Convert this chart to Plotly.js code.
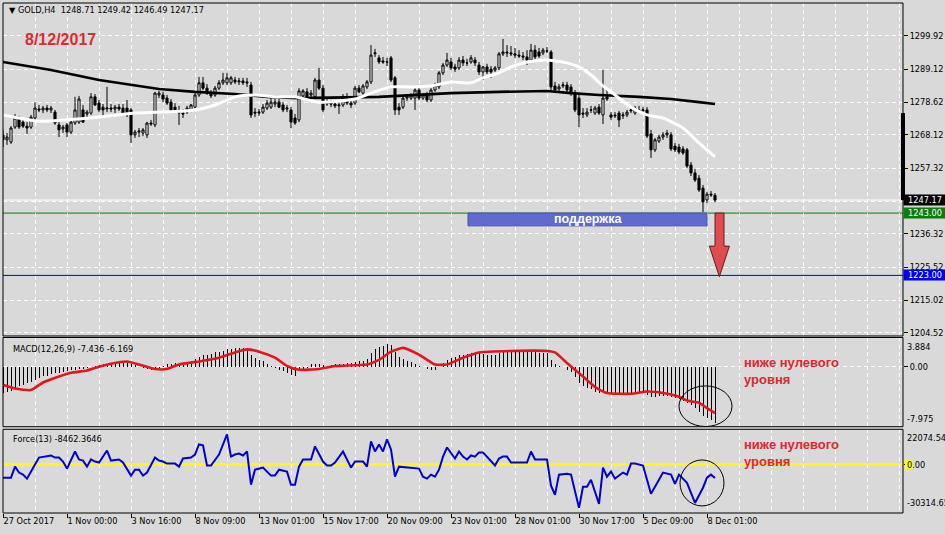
<!DOCTYPE html>
<html><head><meta charset="utf-8">
<script src="https://cdn.plot.ly/plotly-3.0.1.min.js"></script>
<style>html,body{margin:0;padding:0;background:#d9d9d9}#chart{width:945px;height:534px}</style>
</head><body><div id="chart"></div>
<script>
// ---- price data (GOLD, H4), one value per bar ----
const openP = [1268.1,1266.5,1265.8,1270.6,1273.5,1272.2,1270.9,1270.6,1273.5,1276.4,
1276.1,1276.7,1276.1,1275.4,1271.3,1270.0,1271.3,1269.0,1271.9,1272.2,
1276.1,1274.8,1275.1,1280.3,1278.3,1277.0,1276.4,1276.7,1276.4,1277.0,
1276.7,1276.7,1276.1,1268.1,1269.0,1268.7,1268.1,1271.9,1271.3,1280.9,
1280.9,1279.9,1278.6,1277.0,1276.1,1275.1,1275.4,1276.1,1277.0,1280.9,
1284.8,1283.1,1281.5,1280.9,1283.1,1284.8,1284.8,1284.8,1285.7,1285.1,
1285.4,1285.1,1284.1,1275.4,1275.1,1275.4,1276.7,1277.0,1278.0,1278.6,
1277.7,1276.4,1276.1,1273.5,1272.9,1280.6,1281.9,1280.9,1280.3,1285.7,
1283.1,1278.6,1278.3,1278.0,1277.4,1277.7,1280.3,1278.3,1278.3,1283.1,
1281.5,1283.5,1285.1,1294.1,1292.8,1291.8,1291.5,1292.8,1286.4,1277.0,
1277.0,1279.9,1279.9,1279.9,1282.5,1279.9,1280.9,1279.3,1282.5,1283.5,
1288.0,1290.5,1291.5,1289.9,1289.6,1292.1,1291.2,1291.5,1292.1,1290.5,
1288.3,1289.9,1289.2,1288.9,1289.6,1294.1,1294.7,1294.4,1294.1,1293.7,
1293.4,1293.1,1292.1,1295.3,1294.7,1294.4,1295.0,1294.7,1283.8,1282.8,
1283.8,1284.1,1283.5,1281.5,1279.9,1275.1,1274.5,1276.1,1275.1,1277.0,
1274.5,1280.3,1274.5,1274.5,1275.1,1274.2,1274.5,1275.8,1275.1,1276.1,
1275.8,1276.1,1268.4,1263.3,1266.1,1267.4,1268.1,1268.1,1264.5,1264.2,
1263.6,1263.3,1258.4,1255.9,1254.2,1251.0,1247.2,1249.1,1248.71];
const highP = [1269.7,1268.7,1270.9,1274.8,1274.2,1273.2,1272.2,1274.5,1278.6,1277.7,
1277.4,1277.7,1277.4,1276.1,1272.2,1271.3,1271.9,1272.9,1280.3,1280.6,
1277.7,1276.1,1281.5,1281.2,1279.3,1278.0,1283.5,1278.0,1277.7,1278.0,
1278.0,1279.3,1276.7,1269.7,1270.3,1270.3,1272.2,1272.9,1281.9,1282.2,
1281.9,1280.9,1279.6,1278.3,1277.4,1276.4,1277.4,1278.0,1281.5,1286.7,
1286.7,1284.4,1282.5,1283.8,1285.7,1288.0,1288.0,1287.0,1286.7,1286.4,
1286.4,1286.4,1285.1,1276.7,1276.4,1278.0,1279.3,1279.9,1279.6,1279.6,
1278.6,1277.7,1277.0,1274.8,1283.1,1282.8,1283.1,1282.5,1286.4,1289.6,
1284.1,1279.6,1279.3,1279.3,1278.6,1281.2,1281.5,1279.3,1283.8,1284.1,
1284.4,1285.7,1296.9,1295.7,1293.7,1293.1,1292.8,1293.4,1287.0,1278.3,
1280.6,1281.2,1281.5,1283.1,1283.8,1281.5,1281.9,1283.1,1284.8,1288.6,
1291.2,1294.4,1292.8,1290.9,1293.1,1293.4,1292.5,1293.7,1293.1,1291.5,
1290.2,1290.9,1290.2,1290.2,1294.7,1298.9,1296.9,1296.6,1296.0,1295.3,
1294.7,1295.3,1297.3,1296.9,1296.0,1296.0,1296.3,1295.3,1285.1,1284.4,
1285.1,1285.1,1284.4,1282.5,1281.2,1276.7,1276.7,1277.4,1277.4,1278.0,
1288.9,1282.5,1275.4,1275.4,1275.8,1275.4,1276.1,1277.0,1277.4,1277.4,
1277.0,1277.0,1269.7,1267.1,1268.1,1269.0,1269.7,1269.0,1265.5,1265.2,
1264.5,1263.9,1259.4,1257.1,1255.2,1252.0,1249.8,1250.1,1249.42];
const lowP = [1264.2,1264.9,1265.2,1270.0,1270.0,1270.3,1268.4,1270.0,1272.9,1275.4,
1275.1,1275.4,1275.1,1271.3,1267.4,1268.7,1267.4,1268.4,1271.3,1271.6,
1271.9,1273.5,1274.5,1277.4,1275.4,1273.5,1275.4,1275.4,1275.1,1275.8,
1274.2,1273.8,1265.5,1267.1,1267.4,1267.7,1267.1,1271.0,1270.6,1279.9,
1278.6,1277.7,1275.4,1275.1,1271.3,1273.5,1274.8,1275.4,1276.7,1280.3,
1282.5,1280.9,1279.9,1280.3,1282.5,1284.1,1284.1,1284.1,1284.4,1284.1,
1284.1,1283.5,1273.5,1273.8,1274.2,1274.8,1276.1,1276.4,1277.0,1276.7,
1275.4,1275.4,1270.3,1271.3,1272.2,1279.9,1279.6,1279.9,1279.6,1282.5,
1275.4,1277.4,1277.0,1276.7,1274.8,1277.0,1277.7,1276.7,1277.7,1281.5,
1280.9,1282.8,1284.4,1293.1,1290.9,1290.9,1290.2,1285.1,1274.5,1274.5,
1276.4,1279.0,1279.3,1276.1,1279.3,1279.3,1278.6,1278.6,1281.9,1282.8,
1287.3,1289.9,1288.9,1288.3,1288.9,1290.2,1290.2,1290.9,1290.2,1287.3,
1285.7,1287.6,1286.4,1288.3,1288.9,1293.4,1293.1,1293.4,1292.8,1292.8,
1292.1,1290.5,1291.5,1292.4,1292.8,1293.7,1294.4,1282.5,1281.9,1282.2,
1283.1,1281.5,1280.6,1275.4,1270.6,1273.5,1273.8,1275.1,1274.5,1274.5,
1271.6,1279.0,1272.9,1273.5,1270.6,1273.2,1273.8,1275.1,1274.5,1275.1,
1275.1,1267.1,1260.7,1262.6,1265.5,1266.5,1267.1,1262.9,1262.6,1261.9,
1261.7,1257.5,1254.9,1253.0,1249.8,1243.3,1246.2,1248.2,1246.49];
const closeP = [1266.5,1267.4,1270.3,1273.5,1270.6,1270.9,1270.3,1273.8,1276.7,1276.1,
1276.7,1276.1,1276.7,1271.9,1269.7,1270.6,1269.0,1272.2,1276.1,1279.6,
1272.2,1275.4,1280.3,1277.7,1276.1,1276.1,1276.7,1276.4,1277.0,1276.4,
1275.1,1274.5,1268.1,1269.0,1269.3,1269.7,1271.9,1271.6,1281.5,1281.5,
1279.6,1278.3,1276.1,1276.1,1275.1,1274.8,1276.7,1277.7,1280.9,1284.8,
1283.1,1281.5,1280.6,1283.1,1284.8,1285.7,1286.4,1286.4,1285.1,1285.4,
1284.8,1284.8,1274.5,1275.1,1275.4,1277.0,1278.3,1278.6,1278.6,1277.0,
1276.1,1276.7,1272.2,1271.9,1282.2,1282.2,1280.3,1281.5,1285.7,1283.1,
1276.1,1278.0,1278.0,1277.4,1277.7,1280.3,1278.3,1277.7,1283.1,1281.9,
1283.8,1285.1,1293.7,1294.4,1291.5,1291.5,1291.5,1285.7,1276.1,1276.1,
1279.9,1280.3,1280.9,1282.5,1279.9,1280.9,1279.3,1282.5,1284.1,1288.0,
1290.5,1292.1,1289.6,1289.2,1292.1,1291.2,1291.2,1292.8,1291.2,1288.3,
1289.9,1288.3,1288.3,1289.6,1294.1,1294.7,1294.4,1294.1,1293.7,1293.4,
1293.1,1292.1,1295.3,1293.1,1293.4,1295.3,1295.0,1283.5,1282.5,1283.5,
1284.1,1282.5,1281.5,1276.1,1274.5,1274.8,1275.4,1276.1,1276.7,1275.1,
1279.9,1279.6,1273.8,1274.2,1272.9,1274.5,1275.4,1276.1,1276.7,1275.8,
1276.1,1267.7,1263.3,1266.5,1267.4,1268.1,1268.7,1263.6,1263.3,1262.6,
1262.3,1258.1,1255.9,1253.6,1250.4,1246.6,1249.1,1248.8,1247.17];

// moving averages (sampled at bar indices)
const slowMaBars = [0,12,24,39,48,58,66,74,94,104,112,124,136,142,149,159,167,174,178];
const slowMa = [1291.5,1288.9,1285.7,1282.8,1281.9,1281.2,1280.3,1279.9,1280.3,1280.9,1281.5,1281.9,1282.2,1281.5,1280.9,1280.3,1279.6,1278.6,1278.0];
const fastMaBars = [0,4,9,16,24,33,39,48,53,58,63,68,73,79,88,92,97,102,107,112,117,120,124,127,131,136,138,141,144,147,150,153,157,161,165,170,174,178];
const fastMa = [1274.5,1273.5,1272.5,1272.9,1273.8,1275.1,1275.4,1276.1,1277.7,1280.3,1280.9,1280.3,1280.3,1278.6,1279.6,1281.5,1283.5,1283.5,1283.8,1285.1,1284.8,1286.4,1288.0,1289.9,1291.5,1292.1,1291.8,1291.2,1289.9,1287.3,1283.8,1280.9,1277.0,1274.5,1273.5,1270.3,1265.5,1261.0];

// MACD(12,26,9)
const macdMain = [-3.5,-3.4,-3.2,-2.9,-2.6,-2.4,-2.2,-2.0,-1.7,-1.5,
-1.3,-1.2,-1.0,-0.9,-0.8,-0.7,-0.6,-0.5,-0.4,-0.3,
-0.3,-0.2,-0.1,0.1,0.2,0.3,0.4,0.5,0.5,0.6,
0.6,0.6,0.4,0.2,0.0,-0.2,-0.3,-0.4,-0.4,-0.2,
0.1,0.3,0.4,0.5,0.4,0.5,0.6,0.8,1.0,1.3,
1.5,1.6,1.7,1.9,2.0,2.1,2.3,2.4,2.5,2.5,
2.5,2.4,1.6,1.2,0.9,0.7,0.4,0.1,-0.2,-0.4,
-0.6,-0.8,-1.1,-1.3,-0.6,-0.4,-0.2,0.3,0.4,0.3,
0.2,0.1,0.2,0.3,0.3,0.4,0.5,0.5,0.6,0.7,
0.8,1.0,1.8,2.4,2.6,2.8,3.0,2.9,1.9,1.3,
1.0,0.8,0.6,0.3,0.1,-0.1,-0.3,-0.5,-0.4,0.0,
0.5,0.9,1.1,1.3,1.5,1.6,1.7,1.8,1.8,1.8,
1.7,1.6,1.5,1.5,1.8,2.0,2.1,2.1,2.1,2.0,
2.0,1.9,2.0,1.9,1.8,1.8,1.8,0.9,0.4,0.1,
-0.1,-0.4,-0.7,-1.4,-2.1,-2.5,-2.8,-3.0,-3.3,-3.5,
-3.4,-3.5,-3.6,-3.6,-3.7,-3.6,-3.6,-3.5,-3.5,-3.5,
-3.5,-3.8,-4.0,-4.0,-3.9,-3.9,-3.9,-4.0,-4.1,-4.3,
-4.5,-4.8,-5.1,-5.5,-6.0,-6.5,-6.8,-7.1,-7.436];
const signalBars = [0,3,7,10,14,17,21,24,27,31,34,38,41,44,49,54,58,61,64,68,71,74,79,83,91,94,97,100,104,108,111,115,119,127,136,138,141,145,148,151,157,161,165,169,171,174,176,178];
const macdSignal = [-2.4,-2.9,-3.1,-2.1,-1.3,-0.8,-0.5,0.0,0.4,0.7,0.3,-0.3,-0.3,0.3,0.7,1.2,1.9,2.3,2.0,1.2,0.1,-0.4,-0.3,0.1,0.3,0.9,2.0,2.5,1.6,0.3,0.3,1.2,1.9,2.1,2.1,1.9,0.5,-1.3,-2.7,-3.5,-3.6,-3.3,-3.5,-4.0,-4.5,-4.8,-5.5,-6.169];

// Force Index(13)
const forceBars = [0,2,3,4,5,6,8,9,12,13,14,15,16,18,19,20,21,22,23,24,26,27,29,30,32,33,34,35,36,38,39,40,41,43,44,45,47,48,49,50,51,52,54,56,57,58,59,60,61,62,63,65,67,68,69,71,72,73,74,75,77,78,80,81,82,83,85,86,87,88,90,91,92,93,94,95,96,97,98,99,101,104,105,106,107,108,109,110,111,113,114,115,116,117,118,119,120,122,123,124,125,126,127,131,132,133,136,137,138,139,141,142,143,144,145,146,147,149,150,151,152,153,155,156,157,158,160,162,164,165,167,168,169,171,173,175,176,177,178];
const forceVals = [-8200,-8200,-1300,-5000,-6300,-8800,0,4400,5700,4400,4400,1900,-2500,8200,3200,2500,-1300,3200,1900,1300,8800,2500,3200,1300,-6900,-3200,-3200,-6900,-5000,4400,2500,1900,600,600,-1300,3800,4400,6300,12600,12000,-600,-600,6300,18900,5000,6300,6900,5700,8200,-12600,-3200,-1900,-6900,-6900,-3200,-4400,-12600,-12600,-1300,3200,3200,11400,1900,-600,-600,1300,8200,3200,-1900,1900,1900,-1300,14500,8200,12600,8200,15800,9500,-7600,-1300,-1900,-2500,-7600,-8800,-6300,-7600,-3200,5000,10700,3800,8200,5000,3200,5700,5000,7600,7600,1900,-600,3800,5000,5000,1300,1300,8200,3200,3200,-13200,-18900,-6300,-5700,-6300,-15800,-27100,-13900,-13900,-9500,-24600,-1900,-7600,-4400,-8800,-5000,-6300,600,600,-600,-18300,-9500,-5000,-6300,-12000,-6300,-11400,-24000,-14500,-8200,-6300,-8462.3646];

// axis labels
const dateTickVals = [0,16,32,48,64,80,96,112,128,144,160,176];
const dateTickText = ['27 Oct 2017','1 Nov 00:00','3 Nov 16:00','8 Nov 09:00','13 Nov 01:00','15 Nov 17:00','20 Nov 09:00','23 Nov 01:00','28 Nov 01:00','30 Nov 17:00','5 Dec 09:00','8 Dec 01:00'];
const priceTickVals = [1204.52,1215.02,1225.52,1236.32,1246.82,1257.32,1268.12,1278.62,1289.12,1299.92];
const priceRange = [1203.56,1310.42];
const macdRange = [-7.975,3.884];
const forceRange = [-30314.65,22074.54];
const supportLevel = 1243.00;
const targetLevel = 1223.00;
const supportBox = {from: 116.25, to: 176, bottom: 1238.9};
const chartDate = '8/12/2017';

const bars = openP.map((_, i) => i);
const last = openP.length - 1;
const lastPrice = closeP[last];

const BG = '#d9d9d9';
const GRID = {gridcolor: '#ffffff', griddash: '4px,3px', gridwidth: 1};
const F = 'DejaVu Sans, Verdana, sans-serif';

const traces = [
  {type: 'candlestick', x: bars, open: openP, high: highP, low: lowP, close: closeP,
   xaxis: 'x', yaxis: 'y', whiskerwidth: 0, hoverinfo: 'skip',
   increasing: {line: {color: '#000000', width: 1}, fillcolor: '#ffffff'},
   decreasing: {line: {color: '#000000', width: 1}, fillcolor: '#000000'}},
  {type: 'scatter', mode: 'lines', x: slowMaBars, y: slowMa, xaxis: 'x', yaxis: 'y',
   line: {color: '#000000', width: 2.6}, hoverinfo: 'skip'},
  {type: 'scatter', mode: 'lines', x: fastMaBars, y: fastMa, xaxis: 'x', yaxis: 'y',
   line: {color: '#ffffff', width: 3, shape: 'spline', smoothing: 0.6}, hoverinfo: 'skip'},
  {type: 'bar', x: bars, y: macdMain, xaxis: 'x', yaxis: 'y2', width: 0.25,
   marker: {color: '#000000', line: {width: 0}}, hoverinfo: 'skip'},
  {type: 'scatter', mode: 'lines', x: signalBars, y: macdSignal, xaxis: 'x', yaxis: 'y2',
   line: {color: '#e3161f', width: 2.6, shape: 'spline', smoothing: 0.5}, hoverinfo: 'skip'},
  {type: 'scatter', mode: 'lines', x: forceBars, y: forceVals, xaxis: 'x', yaxis: 'y3',
   line: {color: '#0000d0', width: 2}, hoverinfo: 'skip'}
];

function panelBox(yref) {
  return {type: 'rect', xref: 'paper', yref: yref + ' domain', x0: 0, x1: 1, y0: 0, y1: 1,
          line: {color: '#000000', width: 1}, fillcolor: 'rgba(0,0,0,0)', layer: 'above'};
}
function hline(yref, y, color, width) {
  return {type: 'line', xref: 'paper', yref: yref, x0: 0, x1: 1, y0: y, y1: y,
          line: {color: color, width: width}, layer: 'below'};
}

const shapes = [
  hline('y', lastPrice, '#ffffff', 1),
  hline('y', supportLevel, '#0a7d0a', 1),
  hline('y', targetLevel, '#0000e0', 1),
  hline('y3', 0, '#ffff00', 2.6),
  {type: 'rect', xref: 'x', yref: 'y', x0: supportBox.from, x1: supportBox.to, y0: supportBox.bottom, y1: supportLevel,
   fillcolor: '#6069cc', line: {color: '#4a52b4', width: 1}, layer: 'above'},
  {type: 'path', xref: 'x', yref: 'y', layer: 'above',
   path: 'M 178 ' + supportLevel + ' L 180.25 ' + supportLevel + ' L 180.25 1232.4 L 181.6 1232.4 L 179.1 ' + (targetLevel - 0.4) + ' L 176.6 1232.4 L 178 1232.4 Z',
   fillcolor: '#e24a52', line: {color: '#5a2020', width: 1}},
  {type: 'circle', xref: 'x', yref: 'y2', x0: 169, x1: 182.25, y0: -7.95, y1: -2.55,
   line: {color: '#000000', width: 1}, layer: 'above'},
  {type: 'circle', xref: 'x', yref: 'y3', x0: 169.25, x1: 180.25, y0: -25900, y1: 2900,
   line: {color: '#000000', width: 1}, layer: 'above'},
  {type: 'rect', xref: 'paper', yref: 'y', x0: 0.9978, x1: 1.0022, y0: lastPrice, y1: 1275.1,
   fillcolor: '#000000', line: {width: 0}, layer: 'above'},
  {type: 'rect', xref: 'paper', yref: 'y3', x0: 1.0022, x1: 1.0105, y0: -3000, y1: 3000,
   fillcolor: '#ffff00', line: {width: 0}, layer: 'above'},
  panelBox('y'), panelBox('y2'), panelBox('y3')
];

const fmt = v => v.toFixed(2);
const NB = '\u00a0';
const annotations = [
  {xref: 'paper', yref: 'paper', x: 0.0044, y: 0.9863, xanchor: 'left', yanchor: 'middle', showarrow: false,
   text: '\u25BC' + NB + 'GOLD,H4' + NB + NB + fmt(openP[last]) + NB + fmt(highP[last]) + NB + fmt(lowP[last]) + NB + fmt(closeP[last]),
   font: {family: F, size: 8.2, color: '#000000'}},
  {xref: 'paper', yref: 'paper', x: 0.0222, y: 0.9275, xanchor: 'left', yanchor: 'middle', showarrow: false,
   text: '<b>' + chartDate + '</b>', font: {family: 'Liberation Sans, Arial, sans-serif', size: 16, color: '#dc2b33'}},
  {xref: 'x', yref: 'y', x: (supportBox.from + supportBox.to) / 2, y: (supportLevel + supportBox.bottom) / 2,
   xanchor: 'center', yanchor: 'middle', showarrow: false, text: '<b>поддержка</b>',
   font: {family: 'Liberation Sans, Arial, sans-serif', size: 12.5, color: '#ffffff'}},
  {xref: 'paper', yref: 'paper', x: 0.8211, y: 0.2775, xanchor: 'left', yanchor: 'middle', align: 'left', showarrow: false,
   text: '<b>ниже нулевого<br>уровня</b>', font: {family: 'Liberation Sans, Arial, sans-serif', size: 13, color: '#e0262e'}},
  {xref: 'paper', yref: 'paper', x: 0.8211, y: 0.1176, xanchor: 'left', yanchor: 'middle', align: 'left', showarrow: false,
   text: '<b>ниже нулевого<br>уровня</b>', font: {family: 'Liberation Sans, Arial, sans-serif', size: 13, color: '#e0262e'}},
  // right-side price boxes
  {xref: 'paper', yref: 'y', x: 1, y: lastPrice, xanchor: 'left', yanchor: 'middle', showarrow: false,
   text: fmt(lastPrice), bgcolor: '#000000', borderpad: 0, width: 42, align: 'center',
   font: {family: F, size: 8.2, color: '#ffffff'}},
  {xref: 'paper', yref: 'y', x: 1, y: supportLevel, xanchor: 'left', yanchor: 'middle', showarrow: false,
   text: fmt(supportLevel), bgcolor: '#0a7d0a', borderpad: 0, width: 42, align: 'center',
   font: {family: F, size: 8.2, color: '#ffffff'}},
  {xref: 'paper', yref: 'y', x: 1, y: targetLevel, xanchor: 'left', yanchor: 'middle', showarrow: false,
   text: fmt(targetLevel), bgcolor: '#0000f0', borderpad: 0, width: 42, align: 'center',
   font: {family: F, size: 8.2, color: '#ffffff'}},
  // indicator scale labels
  {xref: 'paper', yref: 'y2 domain', x: 1, y: 1, xanchor: 'left', yanchor: 'top', xshift: 2, yshift: -2, showarrow: false,
   text: String(macdRange[1]), font: {family: F, size: 8.2, color: '#000000'}},
  {xref: 'paper', yref: 'y2 domain', x: 1, y: 0, xanchor: 'left', yanchor: 'bottom', xshift: 2, yshift: 1, showarrow: false,
   text: String(macdRange[0]), font: {family: F, size: 8.2, color: '#000000'}},
  {xref: 'paper', yref: 'y3 domain', x: 1, y: 1, xanchor: 'left', yanchor: 'top', xshift: 2, yshift: -2, showarrow: false,
   text: fmt(forceRange[1]), font: {family: F, size: 8.2, color: '#000000'}},
  {xref: 'paper', yref: 'y3', x: 1, y: 0, xanchor: 'left', yanchor: 'middle', xshift: 2, showarrow: false,
   text: '0.00', font: {family: F, size: 8.2, color: '#000000'}},
  {xref: 'paper', yref: 'y3 domain', x: 1, y: 0, xanchor: 'left', yanchor: 'bottom', xshift: 2, yshift: 3, showarrow: false,
   text: fmt(forceRange[0]), font: {family: F, size: 8.2, color: '#000000'}},
  // indicator names
  {xref: 'paper', yref: 'y2 domain', x: 0.0089, y: 1, xanchor: 'left', yanchor: 'top', yshift: -4, showarrow: false,
   text: 'MACD(12,26,9)' + NB + macdMain[last].toFixed(3) + NB + macdSignal[macdSignal.length - 1].toFixed(3),
   font: {family: F, size: 8.2, color: '#000000'}},
  {xref: 'paper', yref: 'y3 domain', x: 0.0089, y: 1, xanchor: 'left', yanchor: 'top', yshift: -3, showarrow: false,
   text: 'Force(13)' + NB + forceVals[forceVals.length - 1].toFixed(4),
   font: {family: F, size: 8.2, color: '#000000'}}
];

const yCommon = Object.assign({side: 'right', ticks: 'outside', ticklen: 4, tickcolor: '#000000', showline: false,
  zeroline: false, showgrid: true, fixedrange: true, tickfont: {family: F, size: 8.2, color: '#000000'}}, GRID);

const layout = {
  width: 945, height: 534,
  paper_bgcolor: BG, plot_bgcolor: BG,
  margin: {l: 3, r: 42, t: 3, b: 21},
  showlegend: false, boxgap: 0.25, bargap: 0,
  font: {family: F, size: 8.2, color: '#000000'},
  xaxis: Object.assign({anchor: 'y3', range: [0, 225], tickmode: 'array', tickvals: dateTickVals, ticktext: dateTickText,
    ticks: 'outside', ticklen: 4, tickcolor: '#000000', ticklabelposition: 'outside right', tickangle: 0,
    automargin: false, showline: false, zeroline: false, showgrid: true, rangeslider: {visible: false}, fixedrange: true,
    tickfont: {family: F, size: 8.2, color: '#000000'},
    minor: {dtick: 8, tick0: 0, showgrid: true, gridcolor: '#ffffff', griddash: '4px,3px', gridwidth: 1, ticklen: 0}}, GRID),
  yaxis: Object.assign({}, yCommon, {domain: [0.3471, 1], range: priceRange, tickmode: 'array',
    tickvals: priceTickVals, ticktext: priceTickVals.map(fmt)}),
  yaxis2: Object.assign({}, yCommon, {domain: [0.1692, 0.3441], range: macdRange, tickmode: 'array',
    tickvals: [0], ticktext: ['0.00']}),
  yaxis3: Object.assign({}, yCommon, {domain: [0, 0.1641], range: forceRange, tickmode: 'array',
    tickvals: [0], ticktext: [''], showgrid: false}),
  shapes: shapes,
  annotations: annotations
};

Plotly.newPlot('chart', traces, layout, {staticPlot: true, displayModeBar: false});
</script></body></html>
